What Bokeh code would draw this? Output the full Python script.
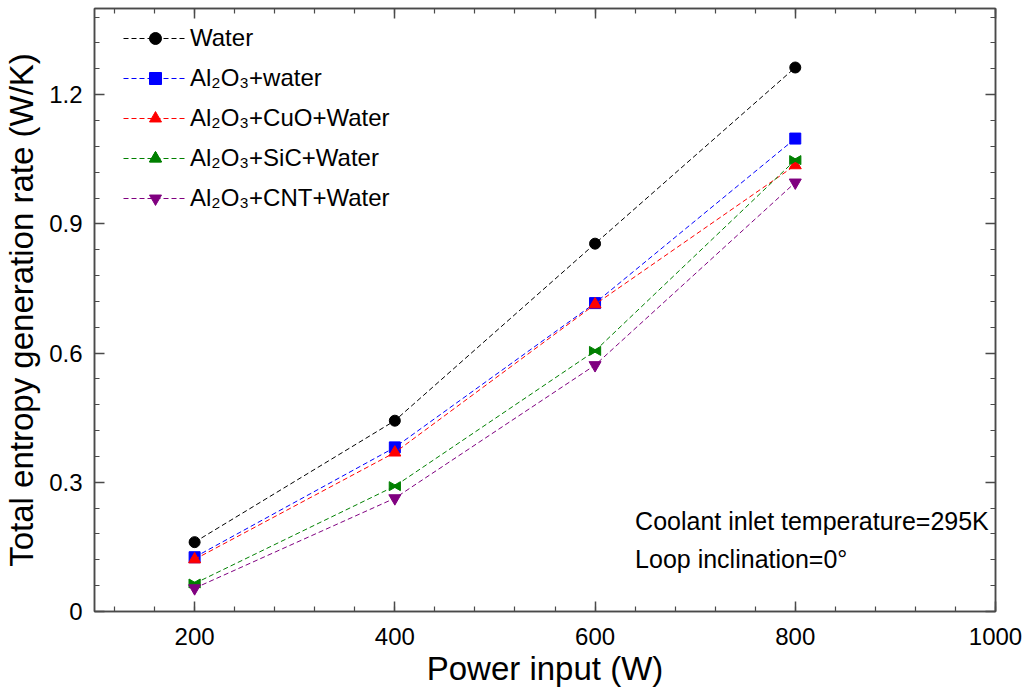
from bokeh.plotting import figure
from bokeh.models import (LinearAxis, SingleIntervalTicker, CustomJSTickFormatter, Legend,
                          LegendItem, Label, Range1d)
from bokeh.transform import dodge
from bokeh.embed import file_html
from bokeh.resources import INLINE
import math

# ---- data ----
power = [200, 400, 600, 800]
water = [0.161, 0.443, 0.854, 1.263]
al2o3_water = [0.126, 0.381, 0.716, 1.098]
al2o3_cuo = [0.121, 0.369, 0.713, 1.036]
al2o3_sic = [0.065, 0.291, 0.605, 1.048]
al2o3_cnt = [0.054, 0.263, 0.572, 0.996]

labels = ["Water", "Al\u2082O\u2083+water", "Al\u2082O\u2083+CuO+Water",
          "Al\u2082O\u2083+SiC+Water", "Al\u2082O\u2083+CNT+Water"]
x_label = "Power input (W)"
y_label = "Total entropy generation rate (W/K)"
note1 = "Coolant inlet temperature=295K"
note2 = "Loop inclination=0\u00b0"

FONT = "Liberation Sans"
AX = "#4a4a4a"

p = figure(width=1027, height=689, output_backend="svg", toolbar_location=None,
           x_range=Range1d(100, 1000), y_range=Range1d(0, 1.4),
           min_border_left=93, min_border_right=32, min_border_top=8, min_border_bottom=78,
           x_axis_type=None, y_axis_type=None)
p.outline_line_color = AX
p.outline_line_width = 1.5
p.xgrid.visible = False
p.ygrid.visible = False
p.background_fill_color = "white"
p.border_fill_color = "white"

yfmt = CustomJSTickFormatter(code="return Math.abs(tick) < 1e-9 ? '0' : tick.toFixed(1);")


def style_axis(ax, show_labels):
    ax.axis_line_color = AX
    ax.axis_line_width = 1.5
    ax.major_tick_line_color = AX
    ax.minor_tick_line_color = AX
    ax.major_tick_line_width = 1.5
    ax.minor_tick_line_width = 1.2
    ax.major_tick_in = 10
    ax.major_tick_out = 0
    ax.minor_tick_in = 5
    ax.minor_tick_out = 0
    ax.major_label_text_font = FONT
    ax.major_label_text_color = "black"
    ax.axis_label_text_font = FONT
    ax.axis_label_text_font_style = "normal"
    ax.axis_label_text_color = "black"
    if not show_labels:
        ax.major_label_text_font_size = "1px"
        ax.major_label_text_color = None
        ax.major_label_standoff = 0


xb = LinearAxis(ticker=SingleIntervalTicker(interval=200, num_minor_ticks=5), axis_label=x_label)
style_axis(xb, True)
xb.major_label_text_font_size = "24px"
xb.axis_label_text_font_size = "33px"
xb.major_label_standoff = 16
xb.axis_label_standoff = 2
p.add_layout(xb, "below")

xt = LinearAxis(ticker=SingleIntervalTicker(interval=200, num_minor_ticks=5))
style_axis(xt, False)
p.add_layout(xt, "above")

yl = LinearAxis(ticker=SingleIntervalTicker(interval=0.3, num_minor_ticks=5), axis_label=y_label,
                formatter=yfmt)
style_axis(yl, True)
yl.major_label_text_font_size = "24px"
yl.axis_label_text_font_size = "33px"
yl.major_label_standoff = 12
yl.axis_label_standoff = 6
p.add_layout(yl, "left")

yr = LinearAxis(ticker=SingleIntervalTicker(interval=0.3, num_minor_ticks=5))
style_axis(yr, False)
p.add_layout(yr, "right")

DASH = "5 3"
colors = ["#000000", "#0000ff", "#ff0000", "#008000", "#800080"]

items = []
# Water
l0 = p.line(power, water, line_color=colors[0], line_dash=DASH, line_width=1)
m0 = p.scatter(power, water, marker="circle", size=11, color=colors[0])
items.append(LegendItem(label=labels[0], renderers=[l0, m0]))
# Al2O3 + water
l1 = p.line(power, al2o3_water, line_color=colors[1], line_dash=DASH, line_width=1)
m1 = p.scatter(power, al2o3_water, marker="square", size=11, color=colors[1])
items.append(LegendItem(label=labels[1], renderers=[l1, m1]))
# Al2O3 + CuO
l2 = p.line(power, al2o3_cuo, line_color=colors[2], line_dash=DASH, line_width=1)
m2 = p.scatter(power, al2o3_cuo, marker="triangle", size=12, color=colors[2])
items.append(LegendItem(label=labels[2], renderers=[l2, m2]))
# Al2O3 + SiC (bowtie from two inward-pointing triangles)
l3 = p.line(power, al2o3_sic, line_color=colors[3], line_dash=DASH, line_width=1)
src3 = dict(x=power, y=al2o3_sic)
m3a = p.scatter(x=dodge("x", -3, range=p.x_range), y="y", source=src3, marker="triangle",
                size=9, angle=-math.pi / 2, color=colors[3])
m3b = p.scatter(x=dodge("x", 3, range=p.x_range), y="y", source=src3, marker="triangle",
                size=9, angle=math.pi / 2, color=colors[3])
items.append(LegendItem(label=labels[3], renderers=[l3, m3a, m3b]))
# Al2O3 + CNT
l4 = p.line(power, al2o3_cnt, line_color=colors[4], line_dash=DASH, line_width=1)
m4 = p.scatter(power, al2o3_cnt, marker="inverted_triangle", size=12, color=colors[4])
items.append(LegendItem(label=labels[4], renderers=[l4, m4]))

legend = Legend(items=items, location=(29, 398), margin=0, padding=0,
                border_line_color=None, background_fill_alpha=0,
                glyph_width=64, glyph_height=30, spacing=10, label_standoff=3,
                label_text_font=FONT, label_text_font_size="24px", label_text_color="black")
p.add_layout(legend, "center")

for txt, yy in [(note1, 0.211), (note2, 0.123)]:
    p.add_layout(Label(x=640, y=yy, text=txt, text_font=FONT, text_font_size="25px",
                       text_baseline="middle", text_color="black"))

open("out.html", "w").write(file_html(p, INLINE))
